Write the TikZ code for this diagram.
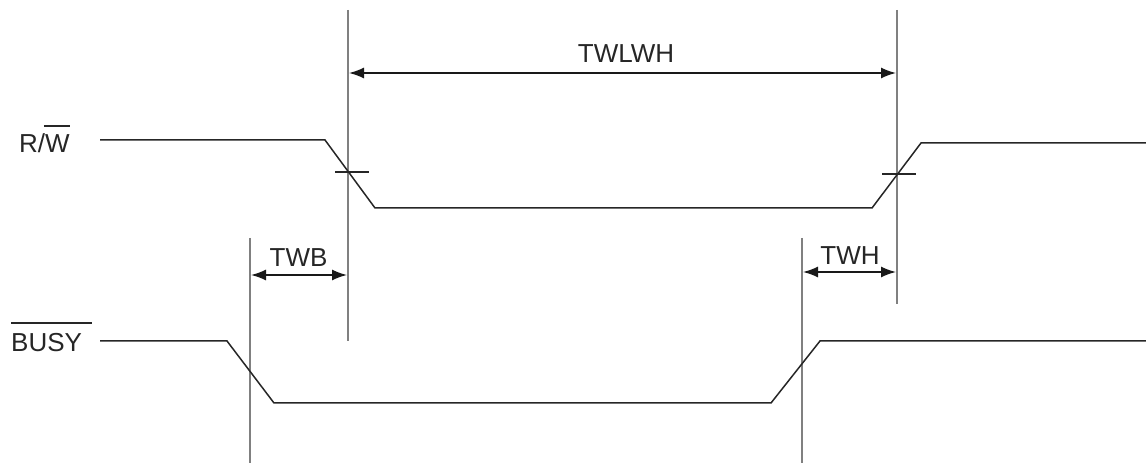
\documentclass[tikz,border=0pt]{standalone}
\usepackage{fontspec}
\setmainfont{Liberation Sans}
\usetikzlibrary{arrows.meta,calc}
\begin{document}
\begin{tikzpicture}[x=1bp,y=-1bp,
  signal/.style={draw=black!85, line width=1.5bp, line join=miter},
  guide/.style={draw=black!50, line width=1.8bp},
  dimarrow/.style={draw=black!90, line width=1.5bp,
    {Latex[length=15bp,width=11bp]}-{Latex[length=15bp,width=11bp]}},
  lbl/.style={font=\fontsize{26bp}{30bp}\selectfont, inner sep=0pt, text=black!85},
  crosstick/.style={draw=black!85, line width=1.1bp},
  ovl/.style={draw=black!85, line width=1.5bp}]
\useasboundingbox (0,0) rectangle (1146,463);

% guide lines
\coordinate (Atop) at (348,10);   \coordinate (Abot) at (348,341);
\coordinate (Btop) at (897,10);   \coordinate (Bbot) at (897,304);
\coordinate (Ctop) at (250,238);  \coordinate (Cbot) at (250,463);
\coordinate (Dtop) at (802,238);  \coordinate (Dbot) at (802,463);
\draw[guide] (Atop) -- (Abot);
\draw[guide] (Btop) -- (Bbot);
\draw[guide] (Ctop) -- (Cbot);
\draw[guide] (Dtop) -- (Dbot);

% R/W waveform
\coordinate (r0) at (100,140);
\coordinate (r1) at (325,140);
\coordinate (r2) at (375,208);
\coordinate (r3) at (872,208);
\coordinate (r4) at (921,143);
\coordinate (r5) at (1146,143);
\draw[signal] (r0) -- (r1) -- (r2) -- (r3) -- (r4) -- (r5);
\coordinate (t1a) at (335,172); \coordinate (t1b) at (369,172);
\coordinate (t2a) at (882,174); \coordinate (t2b) at (916,174);
\draw[crosstick] (t1a) -- (t1b);
\draw[crosstick] (t2a) -- (t2b);

% BUSY waveform
\coordinate (b0) at (100,341);
\coordinate (b1) at (227,341);
\coordinate (b2) at (274,403);
\coordinate (b3) at (771,403);
\coordinate (b4) at (820,341);
\coordinate (b5) at (1146,341);
\draw[signal] (b0) -- (b1) -- (b2) -- (b3) -- (b4) -- (b5);

% signal labels
\node[lbl, anchor=base west] (rw) at (19,153) {R/W};
\draw[ovl] ($(rw.base east)+(-26,-27)$) -- ($(rw.base east)+(0,-27)$);
\node[lbl, anchor=base west] (busy) at (11,352) {BUSY};
\draw[ovl] ($(busy.base west)+(0,-29)$) -- ($(busy.base east)+(10,-29)$);

% dimension arrows
\coordinate (w1) at (349,73);  \coordinate (w2) at (896,73);
\draw[dimarrow] (w1) -- (w2);
\node[lbl, anchor=base] (twlwh) at (626,63) {TWLWH};

\coordinate (wb1) at (251,275); \coordinate (wb2) at (347,275);
\draw[dimarrow] (wb1) -- (wb2);
\node[lbl, anchor=base] (twb) at (298.5,267) {TWB};

\coordinate (wh1) at (803,272); \coordinate (wh2) at (896,272);
\draw[dimarrow] (wh1) -- (wh2);
\node[lbl, anchor=base] (twh) at (850,265) {TWH};
\end{tikzpicture}
\end{document}
